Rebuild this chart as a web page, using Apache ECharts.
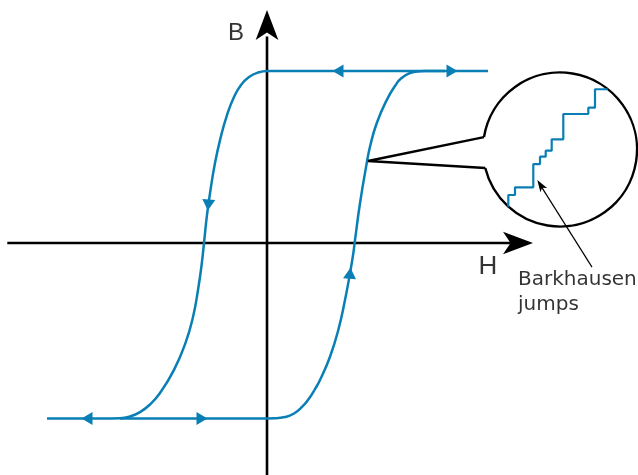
<!DOCTYPE html>
<html>
<head>
<meta charset="utf-8">
<script src="https://cdn.jsdelivr.net/npm/echarts@6/dist/echarts.min.js"></script>
<style>
  html, body { margin: 0; padding: 0; background: #fff; }
  #chart { width: 638px; height: 475px; }
</style>
</head>
<body>
<div id="chart"></div>
<script>
// H in arbitrary units along x, B normalised so that saturation is about 1
const descH = [2.21, 0.20, 0.01, -0.09, -0.18, -0.26, -0.33, -0.40, -0.465, -0.52, -0.565, -0.60, -0.627, -0.654, -0.69, -0.74, -0.815, -0.93, -1.07, -1.17, -1.27, -1.37, -1.47, -1.65, -2.20]
const descB = [1.0, 1.0, 1.0, 0.991, 0.965, 0.919, 0.849, 0.744, 0.610, 0.465, 0.308, 0.163, 0.017, -0.128, -0.273, -0.430, -0.581, -0.738, -0.872, -0.939, -0.983, -1.009, -1.019, -1.02, -1.02]

const ascH = [-1.47, -0.07, 0.08, 0.18, 0.27, 0.35, 0.42, 0.48, 0.53, 0.63, 0.713, 0.78, 0.83, 0.863, 0.88, 0.93, 0.997, 1.03, 1.097, 1.197, 1.297, 1.34, 1.41, 1.48, 1.58, 1.78]
const ascB = [-1.02, -1.02, -1.019, -1.012, -0.991, -0.953, -0.904, -0.849, -0.797, -0.661, -0.506, -0.331, -0.176, -0.060, 0.017, 0.231, 0.463, 0.560, 0.696, 0.831, 0.928, 0.956, 0.983, 0.995, 1.0, 1.0]

// direction markers on the loop
const flowH = [0.71, 1.85, -1.80, -0.65, -0.587, 0.83]
const flowB = [1.0, 1.0, -1.02, -1.02, 0.221, -0.176]
const flowAngle = [90, -90, 90, -90, 175, -5]

// zoomed-in Barkhausen steps
const stepH = [2.413, 2.48, 2.663, 2.73, 2.787, 2.847, 2.963, 3.213, 3.28, 3.407]
const stepB = [0.211, 0.279, 0.324, 0.459, 0.502, 0.537, 0.603, 0.750, 0.787, 0.894]

// callout from the curve to the magnifier
const calloutH = [2.17, 1.01, 2.183]
const calloutB = [0.616, 0.477, 0.436]
const lensCenter = [2.93, 0.5436]
const lensRadius = 0.77

// pointer to the steps
const pointerH = [3.25, 2.74]
const pointerB = [-0.14, 0.331]
const pointerTip = [2.703, 0.366]

// axes (arrow tips at the last value)
const hAxisH = [-2.597, 2.55]
const bAxisB = [-1.3488, 1.2]
const hArrowTip = [2.66, 0]
const bArrowTip = [0, 1.3547]

const labelNames = ['B', 'H', 'Barkhausen\njumps']
const labelH = [-0.311, 2.209, 2.51]
const labelB = [1.218, -0.137, -0.285]

const blue = '#0a7fb5'

let myChart = echarts.init(document.getElementById('chart'))

function zip(xs, ys) {
  return xs.map((x, i) => [x, ys[i]])
}

function initChart() {
  let options = {
    animation: false,
    grid: { left: 0, right: 0, top: 0, bottom: 0 },
    xAxis: { type: 'value', min: -2.67, max: 3.71, show: false },
    yAxis: { type: 'value', min: -1.3488, max: 1.4128, show: false },
    series: [
      {
        name: 'H axis',
        type: 'line',
        silent: true,
        symbol: 'none',
        lineStyle: { color: '#000', width: 2.6 },
        data: zip(hAxisH, [0, 0])
      },
      {
        name: 'B axis',
        type: 'line',
        silent: true,
        symbol: 'none',
        lineStyle: { color: '#000', width: 2.6 },
        data: zip([0, 0], bAxisB)
      },
      {
        name: 'axis arrows',
        type: 'scatter',
        silent: true,
        symbol: 'arrow',
        symbolSize: [17, 30],
        itemStyle: { color: '#000', opacity: 1 },
        data: [
          { value: hArrowTip, symbolRotate: -90 },
          { value: bArrowTip, symbolRotate: 0 }
        ]
      },
      {
        name: 'descending',
        type: 'line',
        silent: true,
        smooth: 0.5,
        symbol: 'none',
        lineStyle: { color: blue, width: 2.5 },
        data: zip(descH, descB)
      },
      {
        name: 'ascending',
        type: 'line',
        silent: true,
        smooth: 0.5,
        symbol: 'none',
        lineStyle: { color: blue, width: 2.5 },
        data: zip(ascH, ascB)
      },
      {
        name: 'flow',
        type: 'scatter',
        silent: true,
        symbol: 'triangle',
        symbolSize: [13, 11],
        itemStyle: { color: blue, opacity: 1 },
        data: flowH.map((h, i) => ({ value: [h, flowB[i]], symbolRotate: flowAngle[i] }))
      },
      {
        name: 'callout',
        type: 'line',
        silent: true,
        symbol: 'none',
        lineStyle: { color: '#000', width: 2.4 },
        data: zip(calloutH, calloutB)
      },
      {
        name: 'steps',
        type: 'line',
        silent: true,
        step: 'start',
        symbol: 'none',
        lineStyle: { color: blue, width: 2.2 },
        data: zip(stepH, stepB)
      },
      {
        name: 'pointer',
        type: 'line',
        silent: true,
        symbol: 'none',
        lineStyle: { color: '#000', width: 1.2 },
        data: zip(pointerH, pointerB)
      },
      {
        name: 'pointer head',
        type: 'scatter',
        silent: true,
        symbol: 'arrow',
        symbolSize: [6, 12],
        symbolRotate: 32.6,
        itemStyle: { color: '#000', opacity: 1 },
        data: [pointerTip]
      },
      {
        name: 'labels',
        type: 'scatter',
        silent: true,
        symbolSize: 1,
        itemStyle: { color: 'transparent' },
        label: {
          show: true,
          position: 'inside',
          formatter: p => p.name,
          color: '#000'
        },
        data: [
          { name: labelNames[0], value: [labelH[0], labelB[0]],
            label: { fontFamily: 'Liberation Sans', fontSize: 24 } },
          { name: labelNames[1], value: [labelH[1], labelB[1]],
            label: { fontFamily: 'Liberation Sans', fontSize: 26 } },
          { name: labelNames[2], value: [labelH[2], labelB[2]],
            label: { fontFamily: 'DejaVu Sans', fontSize: 20, lineHeight: 25, align: 'left' } }
        ]
      }
    ]
  }
  myChart.setOption(options)

  // magnifier circle, open where the callout lines meet it
  const c = myChart.convertToPixel({ gridIndex: 0 }, lensCenter)
  const edge = myChart.convertToPixel({ gridIndex: 0 }, [lensCenter[0] + lensRadius, lensCenter[1]])
  const r = edge[0] - c[0]
  const top = myChart.convertToPixel({ gridIndex: 0 }, [calloutH[0], calloutB[0]])
  const bottom = myChart.convertToPixel({ gridIndex: 0 }, [calloutH[2], calloutB[2]])
  const a1 = Math.atan2(top[1] - c[1], top[0] - c[0])
  const a2 = Math.atan2(bottom[1] - c[1], bottom[0] - c[0])
  myChart.setOption({
    graphic: [{
      type: 'arc',
      silent: true,
      shape: { cx: c[0], cy: c[1], r: r, startAngle: a1, endAngle: a2, clockwise: true },
      style: { stroke: '#000', lineWidth: 2.4, fill: null }
    }]
  })
}

initChart()
</script>
</body>
</html>
